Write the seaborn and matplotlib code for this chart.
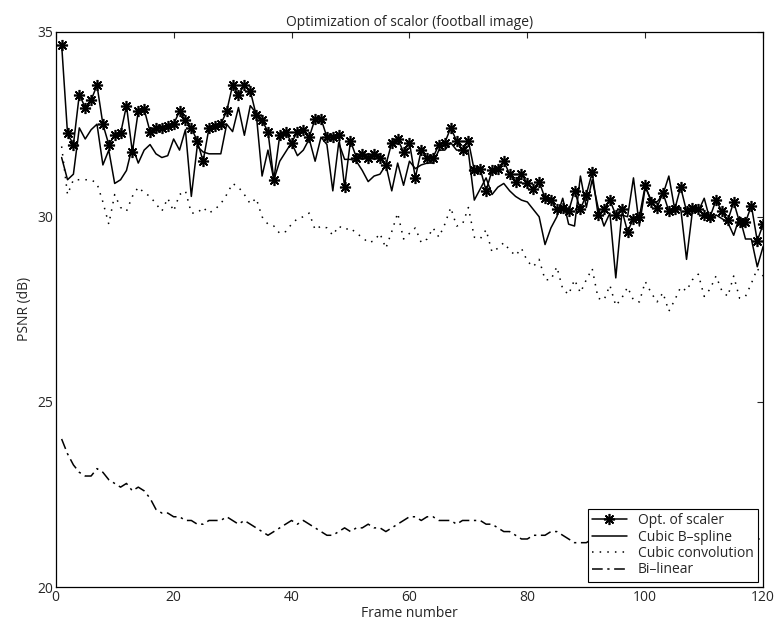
import numpy as np
import pandas as pd
import matplotlib as mpl
mpl.use('Agg')
import matplotlib.pyplot as plt
import seaborn as sns

# ============================================ #
# data (PSNR in dB per frame)
# ============================================ #

frames = np.arange(1, 121)

opt_scaler = [34.65, 32.25, 31.95, 33.3, 32.95, 33.15, 33.55, 32.5, 31.95, 32.2,
              32.25, 33.0, 31.75, 32.85, 32.9, 32.3, 32.4, 32.4, 32.45, 32.5,
              32.85, 32.6, 32.4, 32.05, 31.5, 32.4, 32.45, 32.5, 32.85, 33.55,
              33.3, 33.55, 33.4, 32.75, 32.6, 32.3, 31.0, 32.2, 32.3, 32.0,
              32.3, 32.35, 32.15, 32.65, 32.65, 32.15, 32.15, 32.2, 30.8, 32.05,
              31.6, 31.7, 31.6, 31.7, 31.6, 31.4, 32.0, 32.1, 31.75, 32.0,
              31.05, 31.8, 31.6, 31.6, 31.95, 32.0, 32.4, 32.05, 31.8, 32.05,
              31.25, 31.3, 30.7, 31.25, 31.3, 31.5, 31.15, 30.95, 31.15, 30.9,
              30.75, 30.95, 30.5, 30.45, 30.2, 30.25, 30.15, 30.7, 30.2, 30.6,
              31.2, 30.05, 30.2, 30.45, 30.05, 30.2, 29.6, 29.95, 30.0, 30.85,
              30.4, 30.25, 30.65, 30.15, 30.2, 30.8, 30.15, 30.25, 30.2, 30.05,
              30.0, 30.45, 30.15, 29.9, 30.4, 29.85, 29.85, 30.3, 29.35, 29.8]

cubic_bspline = [31.6, 31.0, 31.15, 32.4, 32.1, 32.35, 32.5, 31.4, 31.8, 30.9,
                 31.0, 31.25, 31.9, 31.45, 31.8, 31.95, 31.7, 31.6, 31.65, 32.1,
                 31.8, 32.35, 30.55, 31.9, 31.75, 31.7, 31.7, 31.7, 32.5, 32.3,
                 32.95, 32.2, 33.0, 32.8, 31.1, 31.8, 31.0, 31.5, 31.75, 32.0,
                 31.65, 31.8, 32.1, 31.5, 32.15, 31.95, 30.7, 32.0, 31.55, 31.55,
                 31.5, 31.25, 30.95, 31.1, 31.15, 31.4, 30.7, 31.45, 30.85, 31.5,
                 31.3, 31.4, 31.45, 31.45, 31.8, 31.8, 32.0, 31.8, 31.8, 31.75,
                 30.45, 30.75, 31.05, 30.6, 30.8, 30.9, 30.7, 30.55, 30.45, 30.4,
                 30.2, 30.0, 29.25, 29.7, 30.0, 30.5, 29.8, 29.75, 31.1, 30.25,
                 31.0, 30.25, 29.75, 30.1, 28.35, 30.05, 30.0, 31.05, 29.75, 30.8,
                 30.45, 30.4, 30.6, 31.1, 30.2, 30.25, 28.85, 30.15, 30.15, 30.5,
                 29.9, 30.05, 29.95, 29.85, 29.5, 30.0, 29.4, 29.4, 28.65, 29.2]

cubic_conv = [31.9, 30.6, 31.0, 31.0, 31.0, 31.0, 30.9, 30.4, 29.8, 30.6,
              30.25, 30.15, 30.55, 30.8, 30.65, 30.55, 30.35, 30.15, 30.5, 30.15,
              30.6, 30.7, 30.1, 30.1, 30.25, 30.1, 30.2, 30.35, 30.6, 30.9,
              30.8, 30.6, 30.35, 30.5, 30.0, 29.8, 29.75, 29.55, 29.6, 29.8,
              29.95, 30.0, 30.1, 29.65, 29.75, 29.7, 29.5, 29.75, 29.65, 29.7,
              29.55, 29.45, 29.3, 29.35, 29.55, 29.15, 29.6, 30.1, 29.4, 29.55,
              29.7, 29.3, 29.4, 29.7, 29.45, 29.8, 30.25, 29.75, 29.8, 30.25,
              29.45, 29.4, 29.65, 29.05, 29.15, 29.3, 29.1, 28.95, 29.15, 28.8,
              28.65, 28.85, 28.3, 28.3, 28.65, 28.05, 27.9, 28.3, 27.95, 28.3,
              28.6, 27.8, 27.75, 28.15, 27.6, 27.8, 28.1, 27.75, 27.7, 28.25,
              27.95, 27.7, 27.95, 27.45, 27.75, 28.1, 28.0, 28.3, 28.45, 27.85,
              28.05, 28.4, 28.0, 27.85, 28.4, 27.8, 27.85, 28.2, 28.6, 28.4]

bilinear = [24.0, 23.6, 23.3, 23.1, 23.0, 23.0, 23.2, 23.1, 22.9, 22.8,
            22.7, 22.8, 22.6, 22.7, 22.6, 22.4, 22.1, 22.0, 22.0, 21.9,
            21.9, 21.8, 21.8, 21.7, 21.7, 21.8, 21.8, 21.8, 21.9, 21.8,
            21.7, 21.8, 21.7, 21.6, 21.5, 21.4, 21.5, 21.6, 21.7, 21.8,
            21.7, 21.8, 21.7, 21.6, 21.5, 21.4, 21.4, 21.5, 21.6, 21.5,
            21.6, 21.6, 21.7, 21.6, 21.6, 21.5, 21.6, 21.7, 21.8, 21.9,
            21.9, 21.8, 21.9, 21.9, 21.8, 21.8, 21.8, 21.7, 21.8, 21.8,
            21.8, 21.8, 21.7, 21.7, 21.6, 21.5, 21.5, 21.4, 21.3, 21.3,
            21.4, 21.4, 21.4, 21.5, 21.5, 21.4, 21.3, 21.2, 21.2, 21.2,
            21.3, 21.3, 21.2, 21.2, 21.3, 21.3, 21.2, 21.2, 21.3, 21.3,
            21.2, 21.2, 21.3, 21.3, 21.2, 21.2, 21.3, 21.3, 21.2, 21.2,
            21.3, 21.3, 21.2, 21.2, 21.3, 21.3, 21.2, 21.2, 21.3, 21.3]

series = ['Opt. of scaler', 'Cubic B\u2013spline', 'Cubic convolution', 'Bi\u2013linear']

df = pd.DataFrame({'frame': np.tile(frames, 4),
                   'psnr': np.concatenate([opt_scaler, cubic_bspline, cubic_conv, bilinear]),
                   'method': np.repeat(series, len(frames))})

# ============================================ #
# plot
# ============================================ #

sns.set_style('white')
plt.rcParams['font.family'] = ['Open Sans', 'DejaVu Sans']

fig = plt.figure(figsize=(7.74, 6.32), dpi=100)
ax = fig.add_axes([0.072, 0.071, 0.914, 0.879])

for name in series:
    sns.lineplot(data=df[df['method'] == name], x='frame', y='psnr',
                 color='black', linewidth=1.1, label=name, ax=ax)

# matlab-ish line styles: asterisk marker, sparse dots, long dash-dot
l_opt, l_bs, l_cc, l_bl = ax.lines[:4]
l_opt.set_marker((8, 2, 0))
l_opt.set_markersize(8)
l_opt.set_markeredgewidth(1.2)
l_opt.set_markeredgecolor('black')  # seaborn sets white edges by default
l_opt.set_markerfacecolor('black')
l_cc.set_dashes((1, 4))
l_bl.set_dashes((7, 3, 1.5, 3))

ax.set_xlim(0, 120)
ax.set_ylim(20, 35)
ax.set_xticks(np.arange(0, 121, 20))
ax.set_yticks([20, 25, 30, 35])
ax.tick_params(direction='in', length=4, labelsize=10, top=True, right=True, pad=2)
for s in ax.spines.values():
    s.set_color('black')
    s.set_linewidth(0.9)

ax.set_xlabel('Frame number', fontsize=10, labelpad=1)
ax.set_ylabel('PSNR (dB)', fontsize=10, labelpad=4)
ax.set_title('Optimization of scalor (football image)', fontsize=10, pad=4)

leg = ax.legend(handles=[l_opt, l_bs, l_cc, l_bl], labels=series,
                loc='lower right', fontsize=10, frameon=True, fancybox=False,
                framealpha=1, edgecolor='black', borderaxespad=0.4,
                handlelength=2.5, labelspacing=0.1, borderpad=0.3)
leg.get_frame().set_linewidth(0.8)

fig.savefig('out.png', dpi=100)
